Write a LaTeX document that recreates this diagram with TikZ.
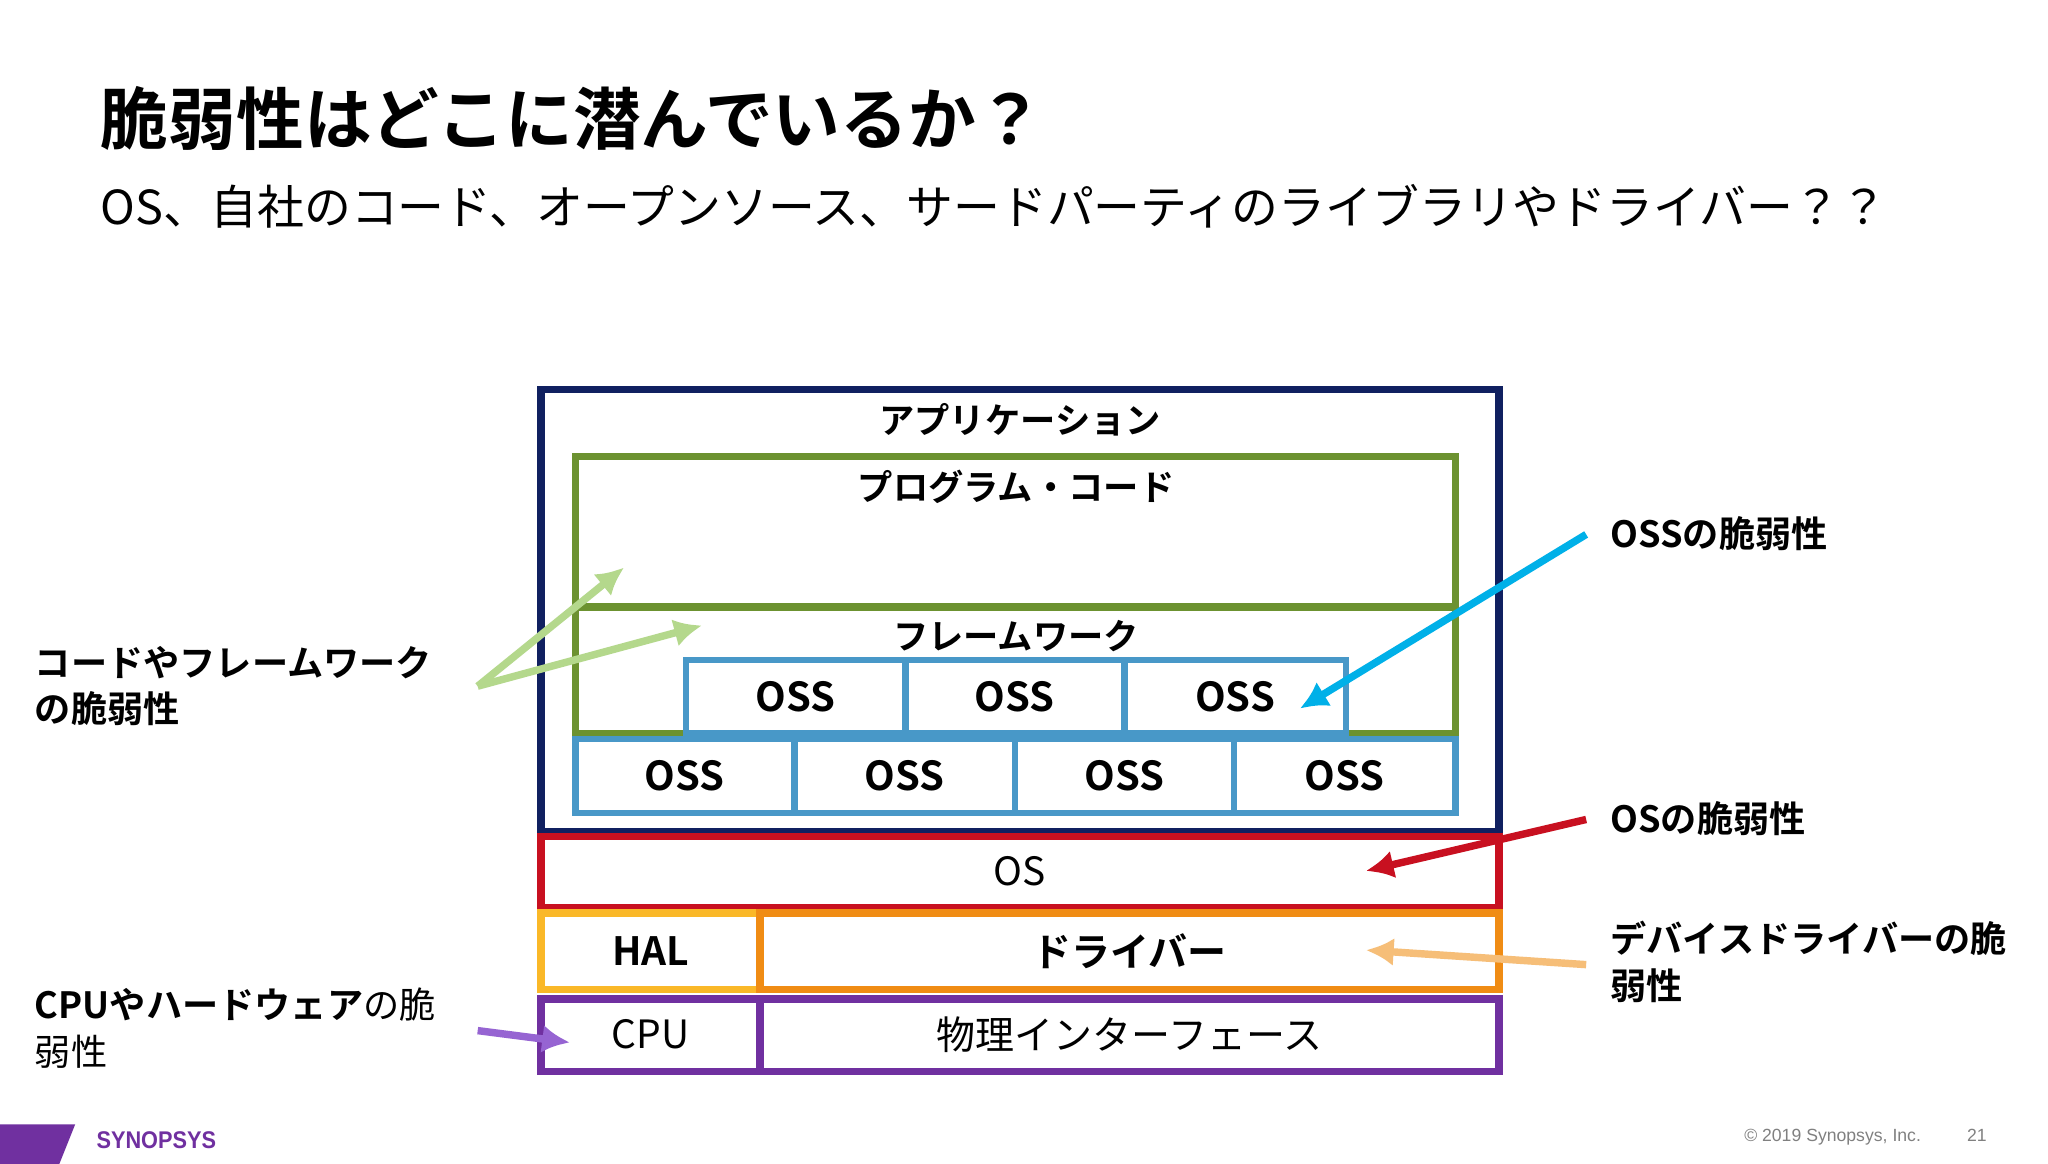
\documentclass[tikz,border=0pt]{standalone}
\usepackage{fontspec}
\setmainfont{Noto Sans CJK JP}[BoldFont={Noto Sans CJK JP Bold}]
\newfontfamily\lat{Liberation Sans}
\begin{document}
\begin{tikzpicture}[x=0.01cm,y=-0.01cm,
  bx/.style={line width=1.6pt},
  lab/.style={font=\bfseries\fontsize{7.6}{9}\selectfont},
  oss/.style={draw=ossb,line width=1.4pt,font=\bfseries\fontsize{8.6}{10}\selectfont,inner sep=0pt},
  note/.style={font=\bfseries\fontsize{7.8}{10}\selectfont,anchor=west,align=left},
  ar/.style={line width=1.6pt,-{Latex[length=6pt,width=6pt]}}]
\usetikzlibrary{arrows.meta}
\definecolor{navy}{RGB}{16,32,96}
\definecolor{grn}{RGB}{108,146,48}
\definecolor{ossb}{RGB}{72,152,200}
\definecolor{rd}{RGB}{200,16,32}
\definecolor{yl}{RGB}{250,184,40}
\definecolor{orn}{RGB}{240,140,20}
\definecolor{pur}{RGB}{112,48,160}
\definecolor{lg}{RGB}{180,216,140}
\definecolor{cy}{RGB}{0,176,232}
\definecolor{lo}{RGB}{246,190,120}
\definecolor{lp}{RGB}{150,100,210}
\useasboundingbox[fill=white] (0,0) rectangle (1552,882);
% title
\node[anchor=west,font=\bfseries\fontsize{14.6}{17}\selectfont] (title) at (64,90) {脆弱性はどこに潜んでいるか？};
\node[anchor=west,font=\fontsize{10.1}{12}\selectfont] (sub) at (64,156) {OS、自社のコード、オープンソース、サードパーティのライブラリやドライバー？？};
% boxes
\draw[bx,draw=navy] (410,295) rectangle (1136,630);
\node[lab] (appl) at (773,318) {アプリケーション};
\draw[bx,draw=grn] (436,346) rectangle (1103,460);
\node[lab] (pcl) at (770,369) {プログラム・コード};
\draw[bx,draw=grn] (436,460) rectangle (1103,556);
\node[lab] (fwl) at (770,482) {フレームワーク};
\foreach \a/\b/\n in {520/686/t1,686/852/t2,852/1020/t3}
  \node[oss,fill=white,minimum width={(\b-\a)*0.01cm},minimum height=0.56cm] (\n) at ({(\a+\b)/2},528) {OSS};
\foreach \a/\b/\n in {436/602/b1,602/769/b2,769/935/b3,935/1103/b4}
  \node[oss,fill=white,minimum width={(\b-\a)*0.01cm},minimum height=0.56cm] (\n) at ({(\a+\b)/2},588) {OSS};
\draw[bx,draw=rd] (410,634) rectangle (1136,688);
\node[font=\fontsize{8.4}{10}\selectfont] (os) at (773,660) {OS};
\draw[bx,draw=yl] (410,692) rectangle (576,750);
\draw[bx,draw=orn] (576,692) rectangle (1136,750);
\node[lab,font=\bfseries\fontsize{8.4}{10}\selectfont] (hal) at (493,721) {HAL};
\node[lab,font=\bfseries\fontsize{8.4}{10}\selectfont] (drv) at (856,721) {ドライバー};
\draw[bx,draw=pur] (410,757) rectangle (576,812);
\draw[bx,draw=pur] (576,757) rectangle (1136,812);
\node[font=\fontsize{8.4}{10}\selectfont] (cpu) at (493,784) {CPU};
\node[font=\fontsize{8.4}{10}\selectfont] (phy) at (856,784) {物理インターフェース};
% notes
\node[note] (n1) at (14,520) {コードやフレームワーク\\の脆弱性};
\node[note] (n2) at (1208,404) {OSSの脆弱性};
\node[note] (n3) at (1208,620) {OSの脆弱性};
\node[note] (n4) at (1208,729) {デバイスドライバーの脆\\弱性};
\node[note] (n5) at (14,779) {CPUやハードウェア\textmd{の脆}\\\textmd{弱性}};
\coordinate (g0) at (362,520); \coordinate (g1) at (473,430); \coordinate (g2) at (532,474);
\draw[ar,lg] (g0) -- (g1);
\draw[ar,lg] (g0) -- (g2);
\coordinate (c0) at (1202,405); \coordinate (c1) at (985,537);
\draw[ar,cy] (c0) -- (c1);
\coordinate (r0) at (1202,621); \coordinate (r1) at (1035,660);
\draw[ar,rd] (r0) -- (r1);
\coordinate (o0) at (1202,731); \coordinate (o1) at (1035,720);
\draw[ar,lo] (o0) -- (o1);
\coordinate (p0) at (362,781); \coordinate (p1) at (432,790);
\draw[ar,lp] (p0) -- (p1);
% footer
\fill[pur] (0,852) -- (57,852) -- (45,882) -- (0,882) -- cycle;
\node[anchor=west,text=pur,font=\lat\bfseries\fontsize{5.2}{7}\selectfont,xscale=0.9] (logo) at (62,864) {SYNOPSYS};
\node[anchor=east,text=gray,font=\lat\fontsize{3.8}{5}\selectfont] (copy) at (1518,862) {© 2019 Synopsys, Inc.\hspace{3.5mm}21};
\end{tikzpicture}
\end{document}
